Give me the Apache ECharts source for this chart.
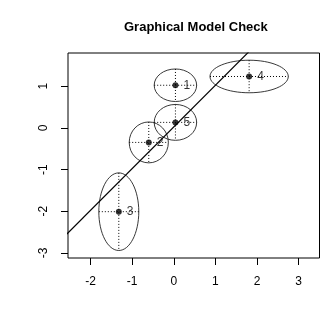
<!DOCTYPE html>
<html>
<head>
<meta charset="utf-8">
<script src="https://cdn.jsdelivr.net/npm/echarts@6/dist/echarts.min.js"></script>
<style>html,body{margin:0;padding:0;background:#fff}#c{width:327px;height:327px}</style>
</head>
<body>
<div id="c"></div>
<script>
const pointLabels = ['1', '2', '3', '4', '5'];
const xVals = [0.04, -0.60, -1.32, 1.81, 0.04];
const yVals = [1.02, -0.35, -2.01, 1.23, 0.13];
const xHalf = [0.51, 0.47, 0.48, 0.94, 0.51];
const yHalf = [0.39, 0.49, 0.93, 0.39, 0.43];
const lineX = [-2.6, 1.85];
const lineY = [-2.58, 1.87];
const xTicks = [-2, -1, 0, 1, 2, 3];
const yTicks = [-3, -2, -1, 0, 1];

const FONT = "'Liberation Sans', Arial, Helvetica, sans-serif";
const chart = echarts.init(document.getElementById('c'), null, {renderer: 'canvas'});

const ellData = xVals.map((x, i) => [x, yVals[i], xHalf[i], yHalf[i]]);
const ptData = xVals.map((x, i) => [x, yVals[i]]);

chart.setOption({
  animation: false,
  backgroundColor: '#fff',
  title: {
    text: 'Graphical Model Check',
    left: 119, top: 16,
    textStyle: {fontFamily: FONT, fontSize: 13, fontWeight: 'bold', color: '#000'}
  },
  grid: {left: 68, right: 7.5, top: 53, bottom: 69, show: true, borderColor: '#000', borderWidth: 1, backgroundColor: 'transparent'},
  xAxis: {
    type: 'value', min: -2.54, max: 3.5,
    axisLine: {show: false, onZero: false},
    splitLine: {show: false},
    axisTick: {show: true, customValues: xTicks, length: 7, lineStyle: {color: '#000', width: 1}},
    axisLabel: {customValues: xTicks, color: '#000', fontSize: 12, fontFamily: FONT, margin: 18}
  },
  yAxis: {
    type: 'value', min: -3.12, max: 1.793,
    axisLine: {show: false, onZero: false},
    splitLine: {show: false},
    axisTick: {show: true, customValues: yTicks, length: 7, lineStyle: {color: '#000', width: 1}},
    axisLabel: {customValues: yTicks, color: '#000', fontSize: 12, fontFamily: FONT, margin: 18, rotate: 90}
  },
  series: [
    {
      type: 'custom',
      data: ellData,
      clip: true,
      renderItem: function (params, api) {
        const c = api.coord([api.value(0), api.value(1)]);
        const s = api.size([api.value(2), api.value(3)]);
        const rx = s[0], ry = s[1];
        const dot = {stroke: '#000', lineWidth: 1, lineDash: [1, 2], fill: null};
        return {
          type: 'group',
          children: [
            {type: 'ellipse', shape: {cx: c[0], cy: c[1], rx: rx, ry: ry}, style: {fill: null, stroke: '#222', lineWidth: 0.9}},
            {type: 'line', shape: {x1: c[0] - rx, y1: c[1], x2: c[0] + rx, y2: c[1]}, style: dot},
            {type: 'line', shape: {x1: c[0], y1: c[1] - ry, x2: c[0], y2: c[1] + ry}, style: dot}
          ]
        };
      },
      z: 2
    },
    {
      type: 'line',
      data: [[lineX[0], lineY[0]], [lineX[1], lineY[1]]],
      showSymbol: false,
      clip: true,
      lineStyle: {color: '#000', width: 1.2},
      z: 3
    },
    {
      type: 'scatter',
      data: ptData,
      symbol: 'circle',
      symbolSize: 6,
      itemStyle: {color: '#000'},
      label: {
        show: true, position: 'right', distance: 5,
        formatter: p => pointLabels[p.dataIndex],
        color: '#000', fontSize: 12, fontFamily: FONT
      },
      z: 4
    }
  ]
});
</script>
</body>
</html>
